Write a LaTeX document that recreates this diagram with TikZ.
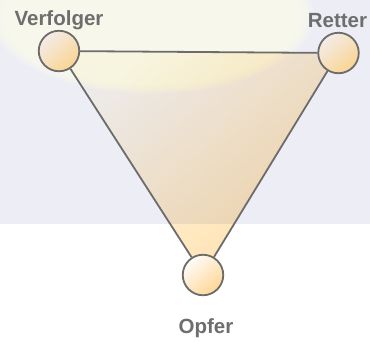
\documentclass[tikz,border=0pt]{standalone}
\usepackage{fontspec}
\setmainfont{Liberation Sans}
\definecolor{lav}{RGB}{237,238,245}
\definecolor{glowc}{RGB}{251,252,235}
\definecolor{triA}{RGB}{255,252,244}
\definecolor{triB}{RGB}{255,223,170}
\definecolor{edgec}{RGB}{108,108,108}
\definecolor{txt}{RGB}{110,110,110}
\definecolor{dotA}{RGB}{244,236,232}
\definecolor{dotB}{RGB}{250,212,145}
\definecolor{dotC}{RGB}{255,252,248}
\definecolor{dotD}{RGB}{255,214,150}
\begin{document}
\begin{tikzpicture}[x=1pt,y=-1pt,
  dot/.style={circle, draw=edgec, line width=1.8pt, minimum size=40.5pt, inner sep=0pt},
  edge/.style={draw=edgec, line width=1.8pt},
  glowlayer/.style={fill=glowc, fill opacity=0.2},
  lbl/.style={text=txt, font=\fontsize{20.5}{24}\selectfont\bfseries, anchor=base, inner sep=0pt}]
\useasboundingbox (0,0) rectangle (370,341);
\fill[white] (0,0) rectangle (370,341);
\fill[lav] (0,0) rectangle (370,224);
\foreach \k in {0,...,11}
  \fill[glowlayer] (152,16) ellipse [x radius={162-2.2*\k}, y radius={78-1.5*\k}];
\coordinate (v) at (59,51);
\coordinate (r) at (338.5,53);
\coordinate (o) at (203,275);
\begin{scope}[blend mode=multiply]
\shade[top color=triA, bottom color=triB, shading angle=40] (v) -- (r) -- (o) -- cycle;
\end{scope}
\node[dot, top color=dotA, bottom color=dotB, shading angle=40] (V) at (v) {};
\node[dot, top color=dotA, bottom color=dotB, shading angle=40] (R) at (r) {};
\node[dot, top color=dotC, bottom color=dotD, shading angle=40] (O) at (o) {};
\draw[edge] (V) -- (R);
\draw[edge] (V) -- (O);
\draw[edge] (R) -- (O);
\node[lbl] (tV) at (59,25) {Verfolger};
\node[lbl] (tR) at (337.5,27) {Retter};
\node[lbl] (tO) at (206,333) {Opfer};
\end{tikzpicture}
\end{document}
